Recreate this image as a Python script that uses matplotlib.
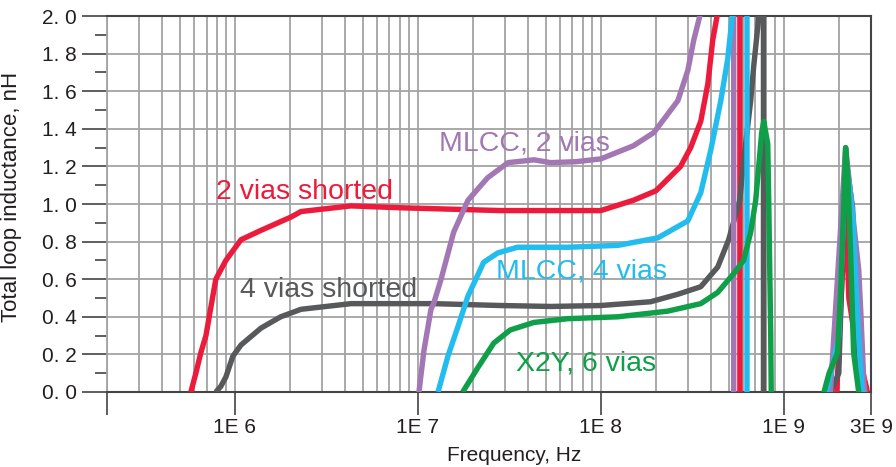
import numpy as np
import matplotlib
matplotlib.use('Agg')
import matplotlib.pyplot as plt
from matplotlib.ticker import LogLocator, NullFormatter, FixedLocator, MultipleLocator

plt.rcParams['font.family'] = ['Liberation Sans', 'DejaVu Sans']

# frequency (Hz) / inductance (nH)
# 2.5 and -0.3 are off-scale points (curve above the top or below zero)
red_f = [5.75e5, 6.12e5, 6.52e5, 6.95e5, 7.39e5, 7.87e5, 8.93e5, 1.08e6, 1.39e6, 2.02e6,
         2.3e6, 4.31e6, 8.08e6, 2.84e7, 1.0e8, 1.51e8, 2.0e8, 2.73e8, 3.1e8, 3.52e8,
         3.85e8, 4.09e8, 4.36e8, 4.8e8, 5.76e8, 5.76e8, 1.8e9,
         1.95e9, 2.18e9, 2.27e9, 2.44e9, 2.64e9, 2.84e9, 2.95e9]
red_v = [0.0, 0.1, 0.21, 0.3, 0.45, 0.6, 0.7, 0.81, 0.86, 0.93,
         0.96, 0.99, 0.98, 0.965, 0.965, 1.02, 1.07, 1.2, 1.3, 1.44,
         1.64, 1.87, 2.02, 2.5, 2.5, -0.3, -0.3,
         0.0, 1.0, 0.5, 0.3, 0.15, 0.02, -0.1]

gray_f = [7.87e5, 8.38e5, 8.93e5, 9.75e5, 1.08e6, 1.39e6, 1.78e6, 2.3e6, 4.31e6, 8.08e6,
          1.22e7, 2.84e7, 5.33e7, 1.0e8, 1.87e8, 2.64e8, 3.52e8, 4.36e8, 5.0e8, 5.75e8,
          6.04e8, 6.6e8, 6.85e8, 7.21e8, 7.3e8, 7.5e8, 7.75e8, 7.75e8, 1.7e9,
          1.8e9, 2.0e9, 2.18e9, 2.38e9, 2.5e9, 2.6e9]
gray_v = [0.0, 0.03, 0.08, 0.19, 0.25, 0.34, 0.4, 0.44, 0.47, 0.47,
          0.47, 0.46, 0.455, 0.46, 0.48, 0.52, 0.56, 0.665, 0.81, 1.02,
          1.23, 1.55, 1.73, 1.94, 2.02, 2.5, 2.5, -0.3, -0.3,
          0.0, 0.1, 1.25, 0.98, 0.3, -0.1]

purple_f = [1.0e7, 1.08e7, 1.18e7, 1.22e7, 1.34e7, 1.57e7, 1.88e7, 2.41e7, 3.11e7, 4.31e7,
            5.33e7, 7.3e7, 1.0e8, 1.51e8, 1.95e8, 2.64e8, 2.99e8, 3.22e8, 3.52e8, 4.0e8,
            5.33e8, 5.33e8, 1.7e9,
            1.8e9, 2.18e9, 2.38e9, 2.57e9, 2.64e9, 2.74e9, 2.85e9]
purple_v = [-0.05, 0.22, 0.44, 0.47, 0.6, 0.85, 1.02, 1.14, 1.22, 1.235,
            1.22, 1.225, 1.24, 1.31, 1.38, 1.55, 1.71, 1.87, 2.02, 2.5,
            2.5, -0.3, -0.3,
            0.0, 1.3, 0.95, 0.65, 0.42, 0.06, -0.1]

cyan_f = [1.29e7, 1.46e7, 1.66e7, 1.88e7, 2.29e7, 2.74e7, 3.5e7, 6.6e7, 1.24e8, 2.05e8,
          2.99e8, 3.52e8, 4.0e8, 4.53e8, 4.94e8, 5.26e8, 5.6e8, 6.3e8, 6.3e8, 1.6e9,
          1.72e9, 2.0e9, 2.18e9, 2.38e9, 2.54e9, 2.64e9, 2.75e9]
cyan_v = [0.0, 0.19, 0.35, 0.51, 0.69, 0.74, 0.77, 0.77, 0.78, 0.82,
          0.91, 1.06, 1.29, 1.55, 1.77, 2.02, 2.5, 2.5, -0.3, -0.3,
          0.0, 0.3, 1.25, 0.95, 0.38, 0.1, -0.1]

green_f = [1.76e7, 2.13e7, 2.6e7, 3.2e7, 4.31e7, 6.6e7, 1.24e8, 2.32e8, 3.52e8, 4.36e8,
           5.33e8, 6.04e8, 6.6e8, 7.03e8, 7.3e8, 7.58e8, 7.78e8, 8.18e8, 8.28e8, 8.49e8,
           8.6e8, 1.6e9,
           1.66e9, 1.77e9, 1.97e9, 2.05e9, 2.13e9, 2.18e9, 2.24e9, 2.32e9, 2.41e9, 2.57e9, 2.65e9]
green_v = [0.0, 0.13, 0.26, 0.33, 0.37, 0.39, 0.4, 0.43, 0.47, 0.53,
           0.63, 0.7, 0.85, 1.02, 1.2, 1.38, 1.44, 1.32, 1.02, 0.31,
           -0.3, -0.3,
           0.0, 0.1, 0.21, 0.56, 1.0, 1.3, 1.15, 0.74, 0.21, 0.0, -0.1]

series = [
    (red_f, red_v, '#ED1B3B'),
    (gray_f, gray_v, '#58595B'),
    (purple_f, purple_v, '#A277B4'),
    (cyan_f, cyan_v, '#22BDEE'),
    (green_f, green_v, '#0E9F48'),
]

labels = ['2 vias shorted', '4 vias shorted', 'MLCC, 2 vias', 'MLCC, 4 vias', 'X2Y, 6 vias']
label_f = [7.87e5, 1.065e6, 1.30e7, 2.67e7, 3.43e7]
label_v = [1.027, 0.505, 1.287, 0.606, 0.117]

x_ticks = [2e5, 1e6, 1e7, 1e8, 1e9, 3e9]
x_ticklabels = ['', '1E 6', '1E 7', '1E 8', '1E 9', '3E 9']
y_ticks = np.arange(0, 2.01, 0.2)
y_ticklabels = ['%d. %d' % (int(round(v * 10)) // 10, int(round(v * 10)) % 10) for v in y_ticks]

fig = plt.figure(figsize=(8.96, 4.67), dpi=100)
ax = fig.add_axes([0.1194, 0.1606, 0.8527, 0.8051])

for f, v, c in series:
    ax.plot(f, v, color=c, lw=3.9, solid_joinstyle='round', solid_capstyle='butt', zorder=3)

for (f, v, c), txt, lf, lv in zip(series, labels, label_f, label_v):
    ax.text(lf, lv, txt, color=c, fontsize=20.5, ha='left', va='baseline', zorder=4)

ax.set_xscale('log')
ax.set_xlim(2e5, 3e9)
ax.set_ylim(0, 2.0)

ax.xaxis.set_major_locator(FixedLocator(x_ticks))
ax.set_xticklabels(x_ticklabels)
ax.xaxis.set_minor_locator(LogLocator(base=10, subs=np.arange(2, 10)))
ax.xaxis.set_minor_formatter(NullFormatter())
ax.set_yticks(y_ticks)
ax.set_yticklabels(y_ticklabels)
ax.yaxis.set_minor_locator(MultipleLocator(0.1))

ax.tick_params(axis='x', which='major', direction='out', length=16.5, width=1.1,
               color='#333333', labelsize=15, pad=2, labelcolor='#231f20')
ax.tick_params(axis='x', which='minor', length=0)
ax.tick_params(axis='y', which='major', direction='out', length=18, width=1.1,
               color='#333333', labelsize=15, pad=3.6, labelcolor='#231f20')
ax.tick_params(axis='y', which='minor', direction='out', length=8.6, width=1.1, color='#333333')

ax.grid(True, which='major', color='#a3a3a3', lw=1.3, zorder=0)
ax.grid(True, which='minor', axis='x', color='#a3a3a3', lw=1.3, zorder=0)
ax.set_axisbelow(True)

for s in ['top', 'bottom', 'right']:
    ax.spines[s].set_color('#444444')
    ax.spines[s].set_linewidth(1.5)
ax.spines['left'].set_color('#a3a3a3')
ax.spines['left'].set_linewidth(1.3)

fig.text(12 / 896, 1 - 197 / 467, 'Total loop inductance, nH', rotation=90,
         fontsize=16, ha='center', va='center', color='#231f20')
fig.text(514 / 896, 2 / 467, 'Frequency, Hz', fontsize=15, ha='center',
         va='bottom', color='#231f20')

fig.savefig('out.png', dpi=100)
